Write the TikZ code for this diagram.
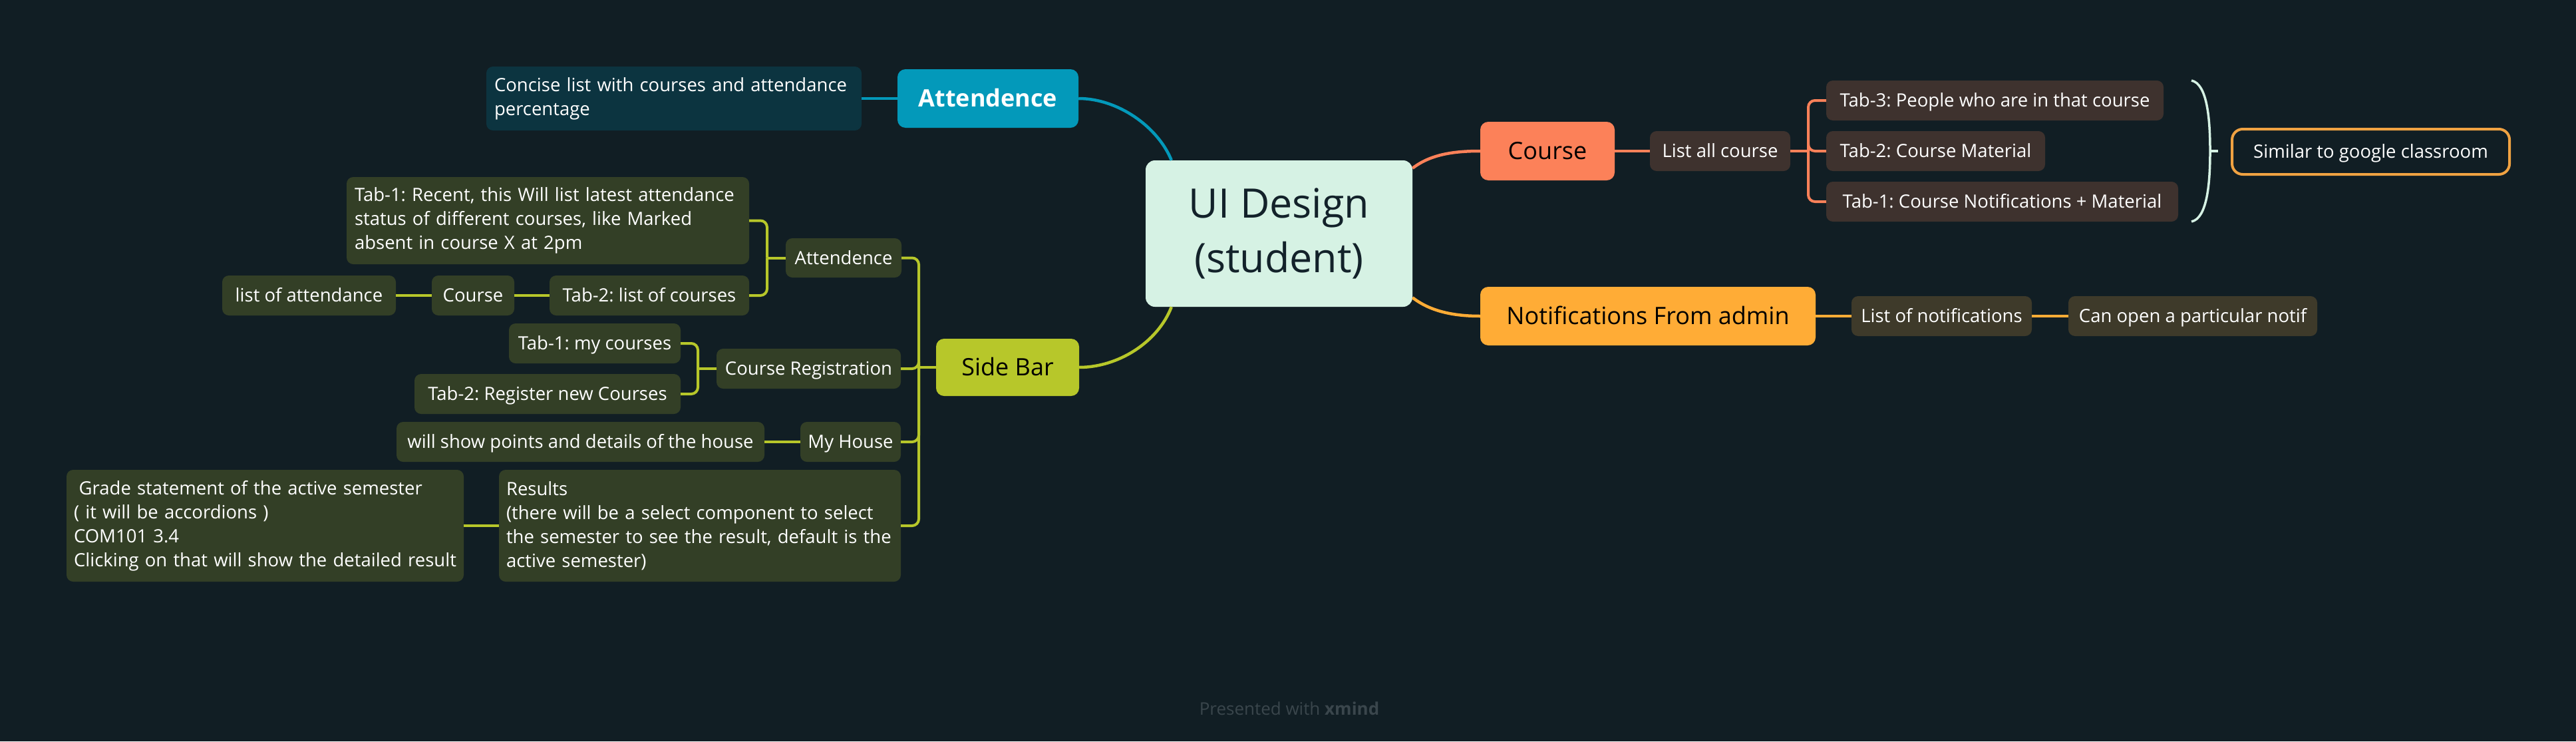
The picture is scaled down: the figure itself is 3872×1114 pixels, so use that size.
\documentclass[tikz,border=0pt]{standalone}
\usepackage{fontspec}
\setmainfont{Open Sans}
\usetikzlibrary{calc}
\definecolor{bg}{HTML}{111E24}
\definecolor{central}{HTML}{D6F2E4}
\definecolor{centraltext}{HTML}{13222A}
\definecolor{teal}{HTML}{0399BA}
\definecolor{tealchild}{HTML}{0C3440}
\definecolor{lime}{HTML}{B7C72A}
\definecolor{limechild}{HTML}{333F26}
\definecolor{coral}{HTML}{FC8159}
\definecolor{coralchild}{HTML}{3E322E}
\definecolor{orangeb}{HTML}{FFAC36}
\definecolor{orangechild}{HTML}{3E3A2A}
\definecolor{simborder}{HTML}{F0A242}
\definecolor{footgray}{HTML}{3A464C}
\newcommand{\mmbox}[7]{%
  \pgfmathsetmacro\mmw{#5-#3}\pgfmathsetmacro\mmh{#6-#4}%
  \pgfmathsetmacro\mmx{(#3+#5)/2}\pgfmathsetmacro\mmy{(#4+#6)/2}%
  \node[#2, minimum width=\mmw pt, minimum height=\mmh pt] (#1) at (\mmx,\mmy) {#7};}
\tikzset{
  base/.style={rounded corners=10pt, inner sep=0pt, text=white, font=\fontsize{27.5}{36}\selectfont\frenchspacing},
  single/.style={base, text height=19.6pt, text depth=0pt},
  multi/.style={base, align=left},
  maintopic/.style={rounded corners=12pt, inner sep=0pt, font=\fontsize{36}{42}\selectfont, text height=25.7pt, text depth=0pt},
  limeline/.style={draw=lime, line width=4pt},
  coralline/.style={draw=coral, line width=4pt},
  orangeline/.style={draw=orangeb, line width=4pt},
  tealline/.style={draw=teal, line width=4pt},
  branch/.style={line width=4.5pt},
}
\begin{document}
\frenchspacing
\begin{tikzpicture}[x=1pt,y=-1pt]
\fill[bg] (0,0) rectangle (3872,1114);
\useasboundingbox (0,0) rectangle (3872,1114);

% central
\mmbox{ui}{rounded corners=14pt, inner sep=0pt, fill=central, text=centraltext, align=center, font=\fontsize{61}{82}\selectfont}{1722}{241}{2123}{461}{UI Design\\(student)}

% main topics
\mmbox{att}{maintopic, fill=teal, text=white, font=\fontsize{36}{42}\selectfont\bfseries}{1349}{104}{1621}{192}{Attendence}
\mmbox{sb}{maintopic, fill=lime, text=black}{1407}{509}{1622}{595}{Side Bar}
\mmbox{course}{maintopic, fill=coral, text=black}{2225}{183}{2427}{271}{Course}
\mmbox{notif}{maintopic, fill=orangeb, text=black}{2225}{431}{2729}{519}{Notifications From admin}

% attendance child
\mmbox{concise}{multi, fill=tealchild, text width=540pt}{731}{100}{1295}{196}{Concise list with courses and attendance\\percentage}

% side bar subtree
\mmbox{att2}{single, fill=limechild}{1181}{358}{1355}{417}{Attendence}
\mmbox{tab1r}{multi, fill=limechild, text width=581pt}{521}{266}{1126}{397}{Tab-1: Recent, this Will list latest attendance\\status of different courses, like Marked\\absent in course X at 2pm}
\mmbox{tab2l}{single, fill=limechild}{826}{414}{1126}{474}{Tab-2: list of courses}
\mmbox{crs}{single, fill=limechild}{649}{414}{773}{474}{Course}
\mmbox{loa}{single, fill=limechild}{334}{414}{595}{474}{list of attendance}
\mmbox{creg}{single, fill=limechild}{1077}{524}{1354}{584}{Course Registration}
\mmbox{tab1m}{single, fill=limechild}{765}{486}{1023}{546}{Tab-1: my courses}
\mmbox{tab2r}{single, fill=limechild}{623}{562}{1023}{622}{Tab-2: Register new Courses}
\mmbox{myh}{single, fill=limechild}{1203}{634}{1354}{694}{My House}
\mmbox{wsp}{single, fill=limechild}{596}{634}{1149}{694}{will show points and details of the house}
\mmbox{res}{multi, fill=limechild, text width=582pt}{750}{706}{1354}{874}{Results\\(there will be a select component to select\\the semester to see the result, default is the\\active semester)}
\mmbox{grade}{multi, fill=limechild, text width=575pt}{100}{706}{697}{874}{\hspace*{0.28em}Grade statement of the active semester\\( it will be accordions )\\COM101 3.4\\Clicking on that will show the detailed result}

% course subtree
\mmbox{lac}{single, fill=coralchild}{2480}{197}{2691}{257}{List all course}
\mmbox{t3}{single, fill=coralchild}{2745}{121}{3252}{181}{Tab-3: People who are in that course}
\mmbox{t2}{single, fill=coralchild}{2745}{197}{3074}{257}{Tab-2: Course Material}
\mmbox{t1}{single, fill=coralchild}{2745}{273}{3274}{333}{Tab-1: Course Notifications + Material}
\mmbox{sim}{single, draw=simborder, line width=4pt, rounded corners=16pt}{3355}{194}{3772}{262}{Similar to google classroom}

% notifications subtree
\mmbox{lon}{single, fill=orangechild}{2783}{445}{3054}{505}{List of notifications}
\mmbox{cano}{single, fill=orangechild}{3109}{445}{3483}{505}{Can open a particular notif}

% footer
\node[anchor=base, text=footgray, inner sep=0pt, font=\fontsize{26}{30}\selectfont] (foot) at (1938,1074) {Presented with \textbf{xmind}};

% main curves
\draw[teal, branch] (att.east) .. controls (1680,148) and (1740,190) .. ($(ui.north west)+(39,0)$);
\draw[lime, branch] (sb.east) .. controls (1680,552) and (1740,515) .. ($(ui.south west)+(39,0)$);
\draw[coral, branch] ($(ui.north east)+(0,12)$) .. controls (2150,232) and (2185,227) .. (course.west);
\draw[orangeb, branch] ($(ui.south east)+(0,-14)$) .. controls (2150,468) and (2185,475) .. (notif.west);

% teal
\draw[tealline] (att.west) -- (concise.east);

% side bar connectors
\coordinate (sbj) at (1381,552);
\draw[limeline] (sb.west) -- (sbj);
\draw[limeline, rounded corners=10pt] (sbj) |- (att2.east);
\draw[limeline, rounded corners=10pt] (sbj) |- (creg.east);
\draw[limeline, rounded corners=10pt] (sbj) |- (myh.east);
\draw[limeline, rounded corners=10pt] (sbj) |- (res.east);

\coordinate (aj) at (1153,387.5);
\draw[limeline] (att2.west) -- (aj);
\draw[limeline, rounded corners=10pt] (aj) |- (tab1r.east);
\draw[limeline, rounded corners=10pt] (aj) |- (tab2l.east);
\draw[limeline] (tab2l.west) -- (crs.east);
\draw[limeline] (crs.west) -- (loa.east);

\coordinate (cj) at (1049,554);
\draw[limeline] (creg.west) -- (cj);
\draw[limeline, rounded corners=10pt] (cj) |- (tab1m.east);
\draw[limeline, rounded corners=10pt] (cj) |- (tab2r.east);

\draw[limeline] (myh.west) -- (wsp.east);
\draw[limeline] (res.west) -- (grade.east);

% course connectors
\draw[coralline] (course.east) -- (lac.west);
\coordinate (lj) at (2718,227);
\draw[coralline] (lac.east) -- (lj);
\draw[coralline, rounded corners=10pt] (lj) |- (t3.west);
\draw[coralline, rounded corners=10pt] (lj) |- (t2.west);
\draw[coralline, rounded corners=10pt] (lj) |- (t1.west);

% summary brace
\coordinate (brtop) at (3294,121);
\coordinate (brmid) at (3322,227);
\coordinate (brbot) at (3294,333);
\coordinate (brtip) at (3334,227);
\draw[central, line width=3.5pt] (brtop) .. controls (3318,126) and (3322,180) .. (brmid) .. controls (3322,274) and (3318,328) .. (brbot);
\draw[central, line width=3.5pt] (brmid) -- (brtip);

% notifications connectors
\draw[orangeline] (notif.east) -- (lon.west);
\draw[orangeline] (lon.east) -- (cano.west);
\end{tikzpicture}
\end{document}
